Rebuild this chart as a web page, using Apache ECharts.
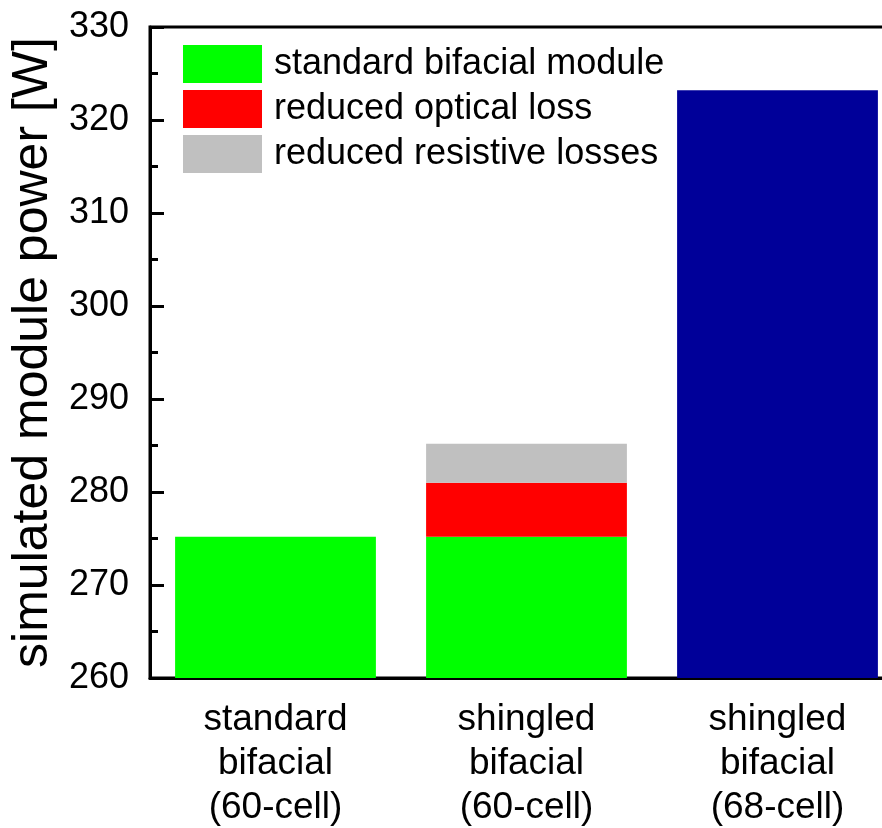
<!DOCTYPE html>
<html><head><meta charset="utf-8">
<script src="https://cdn.jsdelivr.net/npm/echarts@6/dist/echarts.min.js"></script>
<style>html,body{margin:0;padding:0;background:#fff;overflow:hidden}#c{width:903px;height:828px}</style>
</head><body><div id="c"></div>
<script>
const categories = ['standard\nbifacial\n(60-cell)', 'shingled\nbifacial\n(60-cell)', 'shingled\nbifacial\n(68-cell)'];
const standardModule = [275.2, 275.2, null];
const reducedOptical = [null, 5.8, null];
const reducedResistive = [null, 4.2, null];
const shingled68 = [null, null, 323.2];
const legendNames = ['standard bifacial module', 'reduced optical loss', 'reduced resistive losses'];
const yMin = 260, yMax = 330, yStep = 10;

const chart = echarts.init(document.getElementById('c'));
const font = 'Liberation Sans, Arial, sans-serif';
chart.setOption({
  animation: false,
  grid: {left: 150, top: 27, height: 651, right: 0, outerBoundsMode: 'none', show: true, borderColor: '#000', borderWidth: 3, backgroundColor: 'transparent'},
  legend: {
    data: legendNames, orient: 'vertical', left: 178, top: 40,
    itemWidth: 79, itemHeight: 38, itemGap: 7, icon: 'rect',
    textStyle: {fontSize: 36, color: '#000', fontFamily: font, padding: [0, 0, 0, 7]}
  },
  xAxis: {
    type: 'category', data: categories,
    axisLine: {lineStyle: {color: '#000', width: 3}},
    axisTick: {show: false},
    axisLabel: {fontSize: 37, color: '#000', fontFamily: font, lineHeight: 44, margin: 20},
  },
  yAxis: {
    type: 'value', min: yMin, max: yMax, interval: yStep,
    name: 'simulated module power [W]', nameLocation: 'middle', nameGap: 76,
    nameTextStyle: {fontSize: 50, color: '#000', fontFamily: font},
    axisLine: {show: true, lineStyle: {color: '#000', width: 3}},
    axisTick: {show: true, inside: true, length: 14, lineStyle: {color: '#000', width: 3}},
    minorTick: {show: true, splitNumber: 2, length: 8, lineStyle: {color: '#000', width: 3}},
    splitLine: {show: false},
    axisLabel: {fontSize: 36, color: '#000', fontFamily: font, margin: 21}
  },
  series: [
    {name: legendNames[0], type: 'bar', stack: 's', data: standardModule, barCategoryGap: '20%', itemStyle: {color: '#00ff00'}},
    {name: legendNames[1], type: 'bar', stack: 's', data: reducedOptical, itemStyle: {color: '#ff0000'}},
    {name: legendNames[2], type: 'bar', stack: 's', data: reducedResistive, itemStyle: {color: '#c0c0c0'}},
    {name: 'shingled 68', type: 'bar', stack: 's', data: shingled68, itemStyle: {color: '#000099'}}
  ]
});
</script></body></html>
